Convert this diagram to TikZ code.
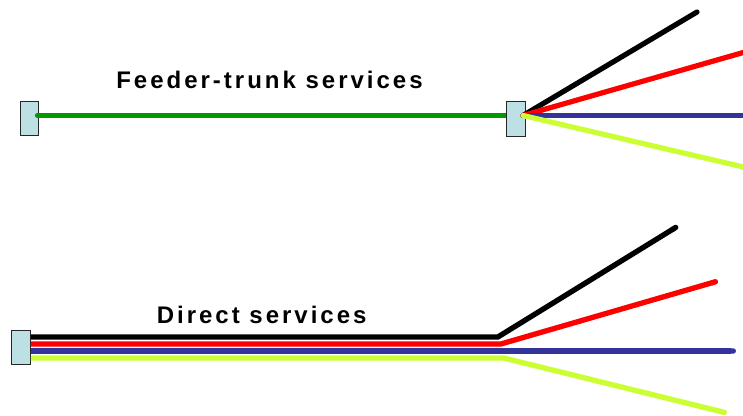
\documentclass[tikz,border=0pt]{standalone}
\usepackage{fontspec}
\usetikzlibrary{calc,arrows.meta}
\newfontfamily\routefont[LetterSpace=12.5]{Liberation Sans}

\definecolor{trunkgreen}{RGB}{0,153,0}
\definecolor{busblue}{RGB}{51,51,153}
\definecolor{limegreen}{RGB}{204,255,51}
\definecolor{stopfill}{RGB}{188,224,228}

\tikzset{
	stopbox/.style={draw=black!85, line width=0.8pt, fill=stopfill,
		minimum width=14pt, minimum height=26pt, inner sep=0pt},
	route/.style={line width=3.9pt, line cap=round},
	bundle/.style={line width=4pt, line cap=butt, -{Round Cap[]}},
	caption/.style={font=\routefont\bfseries\fontsize{18}{20}\selectfont,
		anchor=base west, inner sep=0pt}
}

\begin{document}
\begin{tikzpicture}[x=0.75pt, y=-0.75pt]
	\clip (0,0) rectangle (743,415);
	% feeder-trunk
	\node[caption] (feedtitle) at (116,88) {Feeder-trunk services};
	\node[stopbox] (feedL) at (29.5,118.5) {};
	\coordinate (hub) at (523,115.5);
	\draw[route, trunkgreen] ($(feedL.center)+(8,-3)$) -- (hub);
	\node[stopbox] (feedR) at (516,119) {};
	\coordinate (fBlack) at (697,12);
	\coordinate (fRed) at (752,50);
	\coordinate (fBlue) at (752,115.5);
	\coordinate (fLime) at (752,169);
	\draw[route, black] (hub) -- (fBlack);
	\draw[route, red] (hub) -- (fRed);
	\draw[route, busblue] (hub) -- (fBlue);
	\draw[route, limegreen] (hub) -- (fLime);
	% direct
	\node[caption] (directtitle) at (156.5,323) {Direct services};
	\node[stopbox] (direct) at (21,347.5) {};
	\coordinate (dBlack) at (678,226);
	\coordinate (dRed) at (718,281);
	\coordinate (dBlue) at (736,351);
	\coordinate (dLime) at (727,413);
	\draw[bundle, black] ($(direct.east)+(0,-10.5)$) -- ++(467,0) -- (dBlack);
	\draw[bundle, red] ($(direct.east)+(0,-3.5)$) -- ++(470,0) -- (dRed);
	\draw[bundle, busblue] ($(direct.east)+(0,3.5)$) -- (dBlue);
	\draw[bundle, limegreen] ($(direct.east)+(0,10.5)$) -- ++(473,0) -- (dLime);
\end{tikzpicture}
\end{document}
